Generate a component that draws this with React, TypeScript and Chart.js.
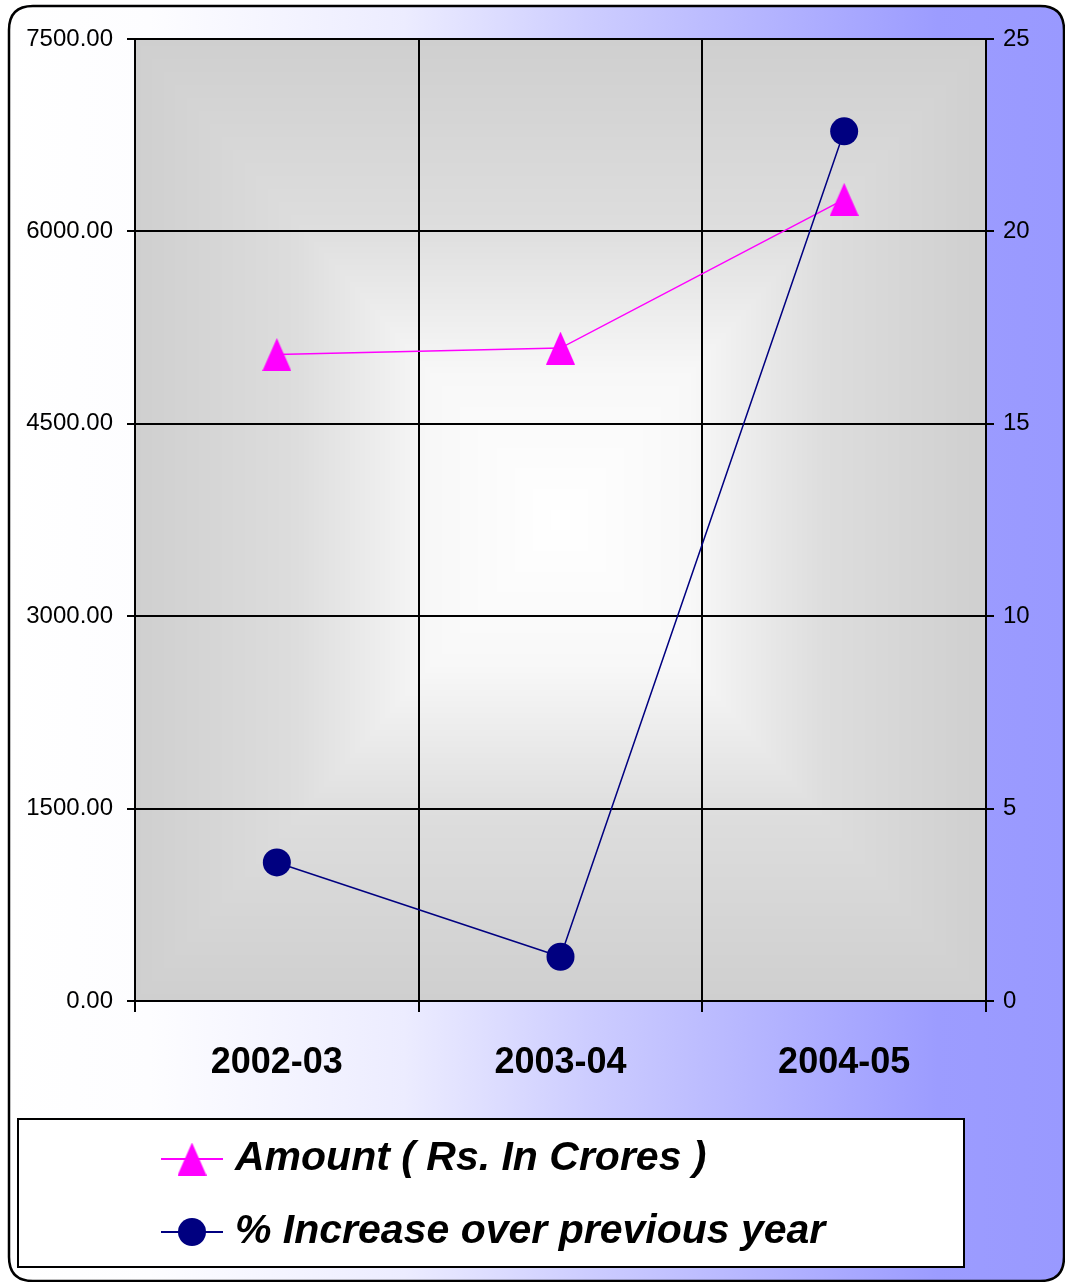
import React, { useEffect, useRef } from 'react';
import { Chart, registerables } from 'chart.js';

Chart.register(...registerables);

const categories = ['2002-03', '2003-04', '2004-05'];
const amountValues = [5040, 5090, 6250];
const increaseValues = [3.6, 1.15, 22.6];
const leftTickValues = [0, 1500, 3000, 4500, 6000, 7500];
const rightTickValues = [0, 5, 10, 15, 20, 25];
const seriesLabels = ['Amount ( Rs. In Crores )', '% Increase over previous year'];
const seriesColors = ['#ff00ff', '#000080'];

const W = 1065;
const H = 1282;

function makeTriangle(w: number, h: number, color: string) {
  const c = document.createElement('canvas');
  c.width = w;
  c.height = h;
  const x = c.getContext('2d')!;
  x.fillStyle = color;
  x.beginPath();
  x.moveTo(w / 2, 0);
  x.lineTo(w, h);
  x.lineTo(0, h);
  x.closePath();
  x.fill();
  return c;
}

function roundRectPath(ctx: CanvasRenderingContext2D, x: number, y: number, w: number, h: number, r: number) {
  ctx.beginPath();
  ctx.moveTo(x + r, y);
  ctx.lineTo(x + w - r, y);
  ctx.quadraticCurveTo(x + w, y, x + w, y + r);
  ctx.lineTo(x + w, y + h - r);
  ctx.quadraticCurveTo(x + w, y + h, x + w - r, y + h);
  ctx.lineTo(x + r, y + h);
  ctx.quadraticCurveTo(x, y + h, x, y + h - r);
  ctx.lineTo(x, y + r);
  ctx.quadraticCurveTo(x, y, x + r, y);
  ctx.closePath();
}

// rectangular "from centre" gradient image
function makePlotFill(w: number, h: number) {
  const c = document.createElement('canvas');
  c.width = Math.max(1, Math.round(w));
  c.height = Math.max(1, Math.round(h));
  const x = c.getContext('2d')!;
  const img = x.createImageData(c.width, c.height);
  const hw = c.width / 2;
  const hh = c.height / 2;
  const stops: [number, number][] = [
    [0, 255],
    [0.3, 248],
    [0.62, 221],
    [1, 207],
  ];
  const shade = (t: number) => {
    for (let i = 1; i < stops.length; i++) {
      if (t <= stops[i][0]) {
        const [t0, v0] = stops[i - 1];
        const [t1, v1] = stops[i];
        return v0 + ((t - t0) / (t1 - t0)) * (v1 - v0);
      }
    }
    return stops[stops.length - 1][1];
  };
  for (let py = 0; py < c.height; py++) {
    const dy = Math.abs(py + 0.5 - hh) / hh;
    for (let px = 0; px < c.width; px++) {
      const dx = Math.abs(px + 0.5 - hw) / hw;
      const v = Math.round(shade(Math.min(1, Math.max(dx, dy))));
      const k = (py * c.width + px) * 4;
      img.data[k] = v;
      img.data[k + 1] = v;
      img.data[k + 2] = v;
      img.data[k + 3] = 255;
    }
  }
  x.putImageData(img, 0, 0);
  return c;
}

export default function App() {
  const ref = useRef<HTMLCanvasElement | null>(null);

  useEffect(() => {
    const canvas = ref.current!;
    const triangle = makeTriangle(29, 33, seriesColors[0]);
    let plotFill: HTMLCanvasElement | null = null;

    const backgroundPlugin = {
      id: 'bgPlugin',
      beforeDraw(chart: any) {
        const { ctx, chartArea } = chart;
        const { left, top, right, bottom } = chartArea;
        ctx.save();
        const g = ctx.createLinearGradient(0, 0, W, 0);
        g.addColorStop(0, '#ffffff');
        g.addColorStop(0.14, '#fdfdff');
        g.addColorStop(0.38, '#ececff');
        g.addColorStop(0.55, '#cdcdff');
        g.addColorStop(0.88, '#9c9cff');
        g.addColorStop(1, '#9999ff');
        roundRectPath(ctx, 9, 6, 1055, 1275, 24);
        ctx.fillStyle = g;
        ctx.fill();

        if (!plotFill || plotFill.width !== Math.round(right - left)) {
          plotFill = makePlotFill(right - left, bottom - top);
        }
        ctx.drawImage(plotFill, left, top, right - left, bottom - top);
        ctx.restore();
      },
      afterDraw(chart: any) {
        const { ctx } = chart;
        ctx.save();
        roundRectPath(ctx, 9, 6, 1055, 1275, 24);
        ctx.strokeStyle = '#000000';
        ctx.lineWidth = 2.5;
        ctx.stroke();

        ctx.fillStyle = '#ffffff';
        ctx.fillRect(18, 1119, 946, 148);
        ctx.strokeStyle = '#000000';
        ctx.lineWidth = 2;
        ctx.strokeRect(18, 1119, 946, 148);

        const rows = [1159, 1232];
        chart.data.datasets.forEach((ds: any, i: number) => {
          const y = rows[i];
          ctx.strokeStyle = ds.borderColor;
          ctx.lineWidth = 2;
          ctx.beginPath();
          ctx.moveTo(161, y);
          ctx.lineTo(223, y);
          ctx.stroke();
          if (i === 0) {
            ctx.drawImage(triangle, 192 - 14.5, y - 16.5);
          } else {
            ctx.fillStyle = ds.backgroundColor;
            ctx.beginPath();
            ctx.arc(192, y, 14, 0, Math.PI * 2);
            ctx.fill();
          }
          ctx.fillStyle = '#000000';
          ctx.font = 'italic bold 41px "Liberation Sans", Arial, sans-serif';
          ctx.textBaseline = 'middle';
          ctx.textAlign = 'left';
          ctx.fillText(ds.label, 235, y);
        });
        ctx.restore();
      },
    };

    const chart = new Chart(canvas, {
      type: 'line',
      data: {
        labels: categories,
        datasets: [
          {
            label: seriesLabels[0],
            data: amountValues,
            yAxisID: 'y',
            borderColor: seriesColors[0],
            backgroundColor: seriesColors[0],
            borderWidth: 1.5,
            pointStyle: triangle as any,
            pointRadius: 15,
            order: 1,
          },
          {
            label: seriesLabels[1],
            data: increaseValues,
            yAxisID: 'y1',
            borderColor: seriesColors[1],
            backgroundColor: seriesColors[1],
            borderWidth: 1.5,
            pointStyle: 'circle',
            pointRadius: 14,
            pointBorderWidth: 0,
            order: 0,
          },
        ],
      },
      options: {
        responsive: false,
        animation: false,
        devicePixelRatio: 1,
        layout: { padding: { left: 0, right: 0, top: 39, bottom: 0 } },
        plugins: {
          legend: { display: false },
          tooltip: { enabled: false },
        },
        scales: {
          x: {
            offset: true,
            grid: {
              offset: true,
              color: '#000000',
              lineWidth: 2,
              tickLength: 11,
              drawOnChartArea: true,
            },
            border: { color: '#000000', width: 2 },
            ticks: {
              color: '#000000',
              padding: 29,
              font: { family: '"Liberation Sans", Arial, sans-serif', size: 36, weight: 'bold' },
            },
            afterFit(scale: any) {
              scale.height = H - 1001;
            },
          },
          y: {
            position: 'left',
            min: 0,
            max: 7500,
            afterBuildTicks(scale: any) {
              scale.ticks = leftTickValues.map((v) => ({ value: v }));
            },
            grid: { color: '#000000', lineWidth: 2, tickLength: 8 },
            border: { color: '#000000', width: 2 },
            ticks: {
              color: '#000000',
              padding: 14,
              font: { family: '"Liberation Sans", Arial, sans-serif', size: 24 },
              callback: (v: any) => Number(v).toFixed(2),
            },
            afterFit(scale: any) {
              scale.width = 135;
            },
          },
          y1: {
            position: 'right',
            min: 0,
            max: 25,
            afterBuildTicks(scale: any) {
              scale.ticks = rightTickValues.map((v) => ({ value: v }));
            },
            grid: { drawOnChartArea: false, color: '#000000', lineWidth: 2, tickLength: 8 },
            border: { color: '#000000', width: 2 },
            ticks: {
              color: '#000000',
              padding: 9,
              font: { family: '"Liberation Sans", Arial, sans-serif', size: 24 },
            },
            afterFit(scale: any) {
              scale.width = W - 986;
            },
          },
        },
      },
      plugins: [backgroundPlugin],
    } as any);

    return () => chart.destroy();
  }, []);

  return (
    <div style={{ position: 'absolute', left: 0, top: 0, width: W, height: H }}>
      <canvas ref={ref} width={W} height={H} style={{ display: 'block' }} />
    </div>
  );
}
